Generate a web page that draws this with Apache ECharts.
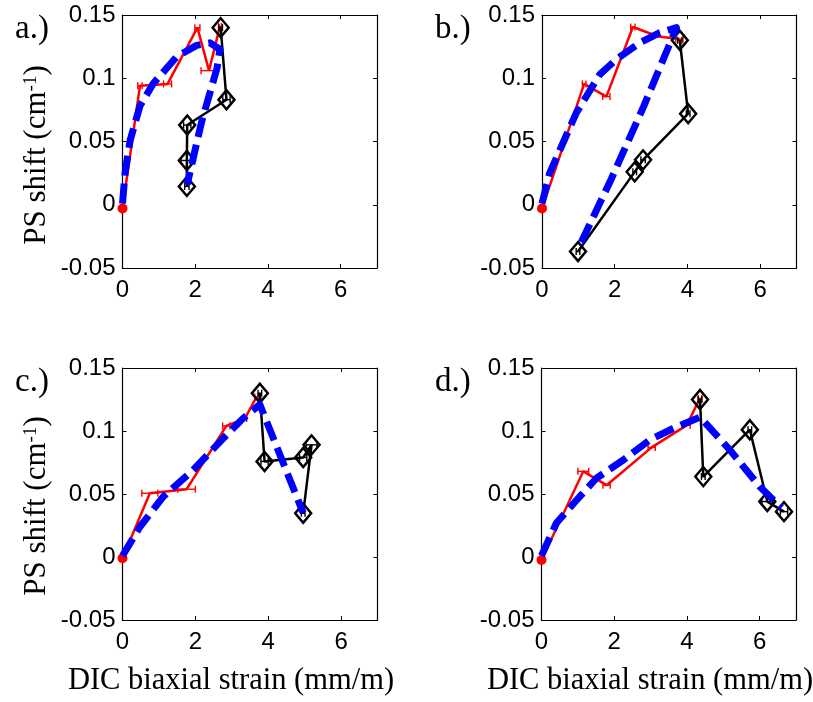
<!DOCTYPE html>
<html><head><meta charset="utf-8">
<script src="https://cdn.jsdelivr.net/npm/echarts@6/dist/echarts.min.js"></script>
<style>html,body{margin:0;padding:0;background:#fff}#c{width:813px;height:702px}</style>
</head><body><div id="c"></div>
<script>
// ---- labels / ticks ----
const xTickMin = 0, xTickMax = 7, xTickStep = 2;
const yTickMin = -0.05, yTickMax = 0.15, yTickStep = 0.05;
const panelLabels = ['a.)', 'b.)', 'c.)', 'd.)'];
const yTitle = 'PS shift (cm{sup|-1})';
const xTitle = 'DIC biaxial strain (mm/m)';

// ---- panel a ----
const aRedX   = [0, 0.48, 1.24, 2.06, 2.38, 2.68];
const aRedY   = [-0.003, 0.094, 0.0955, 0.140, 0.106, 0.141];
const aRedErr = [0, 0.06, 0.11, 0.07, 0.22, 0.04];
const aBlkX   = [2.70, 2.86, 1.78, 1.77, 1.77];
const aBlkY   = [0.140, 0.083, 0.063, 0.035, 0.0145];
const aBlkErr = [0.05, 0.10, 0.10, 0.16, 0.06];
const aBlueX  = [0, 0.07, 0.21, 0.48, 0.85, 1.49, 2.04, 2.40, 2.68, 2.60, 2.38, 2.18, 1.97, 1.78];
const aBlueY  = [0.001, 0.025, 0.051, 0.078, 0.096, 0.117, 0.126, 0.128, 0.123, 0.108, 0.086, 0.066, 0.040, 0.016];

// ---- panel b ----
const bRedX   = [0, 1.16, 1.77, 2.50, 3.20, 3.78];
const bRedY   = [-0.003, 0.0955, 0.0855, 0.1405, 0.133, 0.131];
const bRedErr = [0, 0.05, 0.10, 0.06, 0, 0.10];
const bBlkX   = [3.79, 4.02, 2.78, 2.55, 0.99];
const bBlkY   = [0.130, 0.072, 0.0355, 0.026, -0.037];
const bBlkErr = [0.06, 0.05, 0.06, 0.05, 0.05];
const bBlueX  = [0, 0.21, 0.58, 0.95, 1.59, 2.05, 2.69, 3.24, 3.70, 2.80, 1.90, 0.99];
const bBlueY  = [0.001, 0.025, 0.049, 0.073, 0.103, 0.115, 0.128, 0.136, 0.140, 0.078, 0.020, -0.035];

// ---- panel c ----
const cRedX   = [0, 0.75, 1.76, 2.85, 3.36, 3.68];
const cRedY   = [-0.001, 0.0506, 0.0538, 0.104, 0.110, 0.127];
const cRedErr = [0, 0.22, 0.24, 0.10, 0.05, 0.05];
const cBlkX   = [3.77, 3.90, 4.96, 5.19, 4.96];
const cBlkY   = [0.130, 0.0758, 0.079, 0.089, 0.0347];
const cBlkErr = [0.05, 0.10, 0.10, 0.15, 0.05];
const cBlueX  = [0, 0.48, 1.12, 1.94, 2.76, 3.31, 3.77, 4.96];
const cBlueY  = [0.001, 0.024, 0.048, 0.069, 0.094, 0.110, 0.121, 0.035];

// ---- panel d ----
const dRedX   = [0, 1.15, 1.79, 3.03, 3.99, 4.36];
const dRedY   = [-0.0024, 0.068, 0.057, 0.087, 0.1045, 0.126];
const dRedErr = [0, 0.15, 0.10, 0.10, 0.10, 0.05];
const dBlkX   = [4.36, 4.45, 5.73, 6.21, 6.67];
const dBlkY   = [0.125, 0.0638, 0.101, 0.044, 0.036];
const dBlkErr = [0.05, 0.05, 0.05, 0.15, 0.10];
const dBlueX  = [0, 0.41, 0.96, 1.51, 2.25, 2.98, 3.62, 4.36, 5.18, 6.00, 6.60];
const dBlueY  = [0.001, 0.027, 0.045, 0.0625, 0.077, 0.093, 0.102, 0.111, 0.085, 0.056, 0.039];

const panels = [
  {rx:aRedX, ry:aRedY, re:aRedErr, kx:aBlkX, ky:aBlkY, ke:aBlkErr, ux:aBlueX, uy:aBlueY},
  {rx:bRedX, ry:bRedY, re:bRedErr, kx:bBlkX, ky:bBlkY, ke:bBlkErr, ux:bBlueX, uy:bBlueY},
  {rx:cRedX, ry:cRedY, re:cRedErr, kx:cBlkX, ky:cBlkY, ke:cBlkErr, ux:cBlueX, uy:cBlueY},
  {rx:dRedX, ry:dRedY, re:dRedErr, kx:dBlkX, ky:dBlkY, ke:dBlkErr, ux:dBlueX, uy:dBlueY}
];

const gridPos = [
  {left:122.5, top:15, width:254.5, height:253},
  {left:542, top:15, width:254.5, height:253},
  {left:122.5, top:368, width:255, height:252},
  {left:541.5, top:368, width:254.5, height:252}
];

const SANS = '"Liberation Sans", Arial, sans-serif';
const SERIF = '"Liberation Serif", "Times New Roman", serif';

const grids = [], xAxes = [], yAxes = [], series = [];

function errRender(color, capH, lw) {
  return function (params, api) {
    const x = api.value(0), y = api.value(1), e = api.value(2);
    const p1 = api.coord([x - e, y]), p2 = api.coord([x + e, y]);
    const st = {stroke: color, lineWidth: lw};
    return {type: 'group', children: [
      {type: 'line', shape: {x1: p1[0], y1: p1[1], x2: p2[0], y2: p2[1]}, style: st},
      {type: 'line', shape: {x1: p1[0], y1: p1[1] - capH, x2: p1[0], y2: p1[1] + capH}, style: st},
      {type: 'line', shape: {x1: p2[0], y1: p2[1] - capH, x2: p2[0], y2: p2[1] + capH}, style: st}
    ]};
  };
}

panels.forEach((p, i) => {
  grids.push(Object.assign({containLabel: false}, gridPos[i]));
  const axLine = {show: true, onZero: false, lineStyle: {color: '#000', width: 1.2}};
  const tick = {show: true, inside: true, length: 4, lineStyle: {color: '#000'}};
  xAxes.push({type: 'value', gridIndex: i, position: 'bottom', min: xTickMin, max: xTickMax, interval: xTickStep,
    axisLine: axLine, axisTick: tick, splitLine: {show: false},
    axisLabel: {show: true, margin: 10, color: '#000', fontSize: 24, fontFamily: SANS, showMaxLabel: false,
      formatter: v => (v > 6.5 ? '' : String(v))}});
  xAxes.push({type: 'value', gridIndex: i, position: 'top', min: xTickMin, max: xTickMax, interval: xTickStep,
    axisLine: axLine, axisTick: tick, splitLine: {show: false}, axisLabel: {show: false}});
  yAxes.push({type: 'value', gridIndex: i, position: 'left', min: yTickMin, max: yTickMax, interval: yTickStep,
    axisLine: axLine, axisTick: tick, splitLine: {show: false},
    axisLabel: {show: true, margin: 7, color: '#000', fontSize: 24, fontFamily: SANS,
      formatter: v => String(Math.round(v * 100) / 100)}});
  yAxes.push({type: 'value', gridIndex: i, position: 'right', min: yTickMin, max: yTickMax, interval: yTickStep,
    axisLine: axLine, axisTick: tick, splitLine: {show: false}, axisLabel: {show: false}});

  const xi = 2 * i, yi = 2 * i;
  // red error bars
  series.push({type: 'custom', xAxisIndex: xi, yAxisIndex: yi, z: 2,
    renderItem: errRender('#ff0000', 3.5, 1.4),
    data: p.rx.map((v, k) => [v, p.ry[k], p.re[k]]).filter(d => d[2] > 0), silent: true});
  // red line
  series.push({type: 'line', xAxisIndex: xi, yAxisIndex: yi, z: 3,
    lineStyle: {color: '#ff0000', width: 2.5}, itemStyle: {color: '#ff0000'},
    symbol: 'none',
    data: p.rx.map((v, k) => k === 0 ? {value: [v, p.ry[k]], symbol: 'circle', symbolSize: 10} : [v, p.ry[k]])});
  // black error bars
  series.push({type: 'custom', xAxisIndex: xi, yAxisIndex: yi, z: 4,
    renderItem: errRender('#000000', 3.5, 1.4),
    data: p.kx.map((v, k) => [v, p.ky[k], p.ke[k]]).filter(d => d[2] > 0), silent: true});
  // black line with diamonds
  series.push({type: 'line', xAxisIndex: xi, yAxisIndex: yi, z: 5,
    lineStyle: {color: '#000', width: 2.5},
    symbol: 'diamond', symbolSize: [16, 19], showSymbol: true,
    itemStyle: {color: 'rgba(255,255,255,0)', borderColor: '#000', borderWidth: 2.5},
    data: p.kx.map((v, k) => [v, p.ky[k]])});
  // blue dashed
  series.push({type: 'line', xAxisIndex: xi, yAxisIndex: yi, z: 6,
    lineStyle: {color: '#0000ff', width: 7, type: [20, 8], cap: 'butt', join: 'round'},
    symbol: 'none',
    data: p.ux.map((v, k) => [v, p.uy[k]])});
});

function txt(x, y, text, font, size, extra) {
  return Object.assign({type: 'text', x: x, y: y, silent: true,
    style: Object.assign({text: text, fontFamily: font, fontSize: size, fill: '#000',
      align: 'left', verticalAlign: 'middle', textAlign: 'left', textVerticalAlign: 'middle'}, extra && extra.style || {})},
    extra && extra.props || {});
}
const supRich = {sup: {fontSize: 19, fontFamily: SERIF, lineHeight: 12, verticalAlign: 'top', fill: '#000'}};
const graphic = [
  txt(15, 29, panelLabels[0], SERIF, 33),
  txt(435, 29, panelLabels[1], SERIF, 33),
  txt(15, 382, panelLabels[2], SERIF, 33),
  txt(435, 382, panelLabels[3], SERIF, 33),
  txt(37, 155, yTitle, SERIF, 31, {style: {align: 'center', textAlign: 'center', rich: supRich}, props: {rotation: Math.PI / 2}}),
  txt(37, 506, yTitle, SERIF, 31, {style: {align: 'center', textAlign: 'center', rich: supRich}, props: {rotation: Math.PI / 2}}),
  txt(231, 681, xTitle, SERIF, 30.5, {style: {align: 'center', textAlign: 'center'}}),
  txt(650, 681, xTitle, SERIF, 30.5, {style: {align: 'center', textAlign: 'center'}})
];

const chart = echarts.init(document.getElementById('c'), null, {renderer: 'canvas'});
chart.setOption({
  animation: false,
  backgroundColor: '#fff',
  grid: grids, xAxis: xAxes, yAxis: yAxes, series: series, graphic: graphic
});
</script></body></html>
